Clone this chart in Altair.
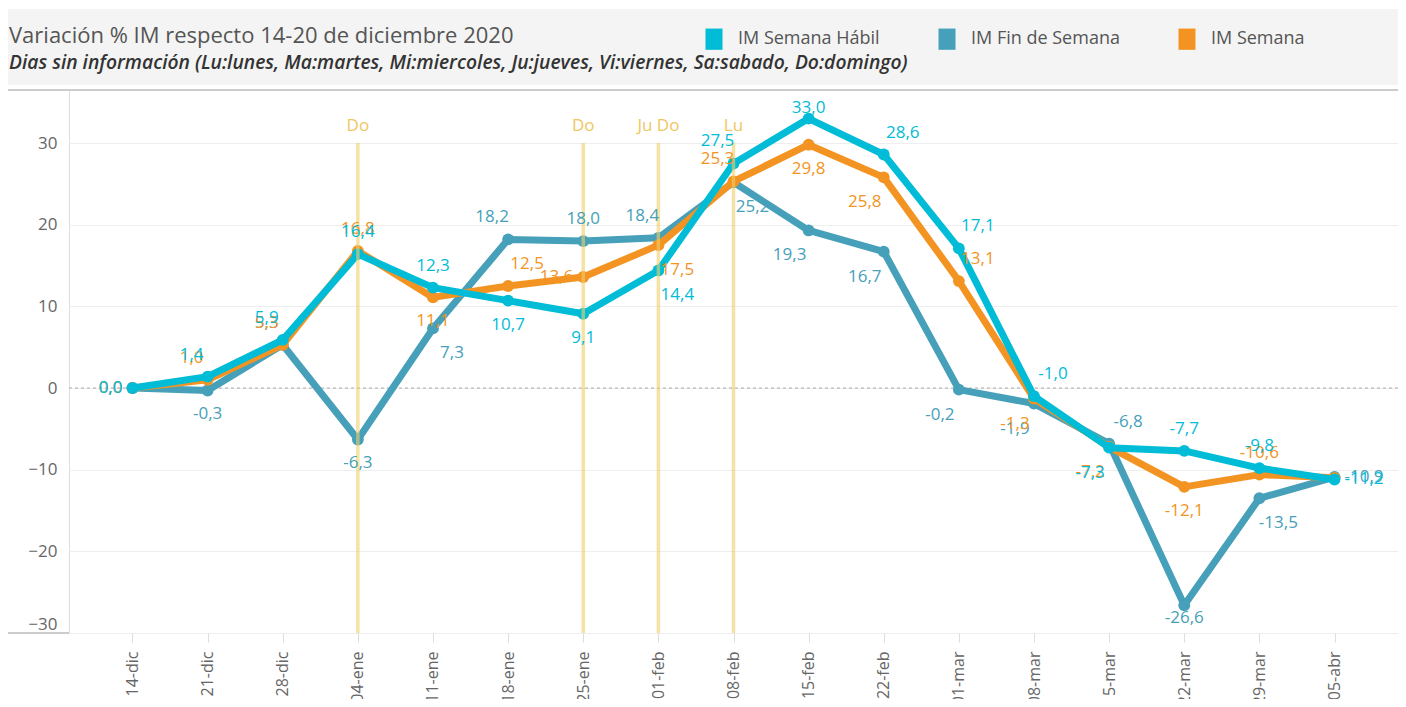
import altair as alt
import pandas as pd

weeks = ["14-dic", "21-dic", "28-dic", "04-ene", "11-ene", "18-ene", "25-ene", "01-feb",
         "08-feb", "15-feb", "22-feb", "01-mar", "08-mar", "15-mar", "22-mar", "29-mar", "05-abr"]

habil = [0.0, 1.4, 5.9, 16.4, 12.3, 10.7, 9.1, 14.4, 27.5, 33.0, 28.6, 17.1, -1.0, -7.3, -7.7, -9.8, -11.2]
fin = [0.0, -0.3, 5.3, -6.3, 7.3, 18.2, 18.0, 18.4, 25.2, 19.3, 16.7, -0.2, -1.9, -6.8, -26.6, -13.5, -10.9]
semana = [0.0, 1.0, 5.3, 16.8, 11.1, 12.5, 13.6, 17.5, 25.3, 29.8, 25.8, 13.1, -1.3, -7.2, -12.1, -10.6, -11.0]

# label placement codes (style only)
habil_pos = ["l", "al", "al", "a", "a", "b", "b", "br", "al", "at", "ar", "ar", "ar", "bl", "a", "a", "r"]
fin_pos = ["l", "b", "al", "b", "br", "al", "a", "al", "br", "bl", "bl", "bl", "bl", "ar", "bt", "br", "r"]
semana_pos = ["l", "al", "al", "a", "b", "ar", "l", "br", "al", "b", "bl", "ar", "bl", "bl", "b", "a", "n"]

series_names = ["IM Semana Hábil", "IM Fin de Semana", "IM Semana"]
series_colors = ["#00BCD6", "#46A0B9", "#F39422"]

ref_weeks = ["04-ene", "25-ene", "01-feb", "08-feb"]
ref_labels = ["Do", "Do", "Ju Do", "Lu"]

title_text = "Variación % IM respecto 14-20 de diciembre 2020"
subtitle_text = ("Dias sin información (Lu:lunes, Ma:martes, Mi:miercoles, Ju:jueves, "
                 "Vi:viernes, Sa:sabado, Do:domingo)")

FONT = "Open Sans"
W, H = 1329, 543
PL, PT = 61, 82

rows = []
for name, vals, poss in [(series_names[1], fin, fin_pos),
                         (series_names[2], semana, semana_pos),
                         (series_names[0], habil, habil_pos)]:
    for w, v, p in zip(weeks, vals, poss):
        rows.append({"week": w, "value": v, "series": name, "pos": p,
                     "label": f"{v:.1f}".replace(".", ",")})
df = pd.DataFrame(rows)
ref_df = pd.DataFrame({"week": ref_weeks, "lab": ref_labels})

xscale = alt.Scale(type="point", domain=weeks, padding=0.845)
yscale = alt.Scale(domain=[-30, 36.5], nice=False, zero=False)
cscale = alt.Scale(domain=series_names, range=series_colors)

x_enc = alt.X("week:O", scale=xscale, title=None,
              axis=alt.Axis(labelAngle=-90, labelFont=FONT, labelFontSize=16, labelColor="#666",
                            tickColor="#dddddd", tickSize=9, labelPadding=9, domain=False, grid=False))
y_enc = alt.Y("value:Q", scale=yscale, title=None,
              axis=alt.Axis(values=[-30, -20, -10, 0, 10, 20, 30], labelFont=FONT, labelFontSize=17,
                            labelColor="#666", ticks=False, domain=False, labelPadding=12,
                            gridColor="#eeeeee", grid=True, labelFlush=True))

base = alt.Chart(df)

zero = alt.Chart(pd.DataFrame({"v": [0]})).mark_rule(
    color="#aaaaaa", strokeDash=[3, 3], strokeWidth=1).encode(y=alt.Y("v:Q", scale=yscale))

legend = alt.Legend(orient="none", legendX=636, legendY=-60, direction="horizontal", columns=3,
                    title=None, symbolType="M-1,-1.25H1V1.25H-1Z", symbolSize=289, labelFont=FONT,
                    labelFontSize=18, labelColor="#555", labelOffset=15, columnPadding=58,
                    symbolStrokeWidth=0, symbolOpacity=1, padding=0)

layers = [zero]
first = True
for name in [series_names[1], series_names[2], series_names[0]]:
    sub = base.transform_filter(alt.datum.series == name)
    layers.append(sub.mark_line(strokeWidth=7, strokeJoin="round", strokeCap="round").encode(
        x=x_enc, y=y_enc, color=alt.Color("series:N", scale=cscale, legend=None)))
    layers.append(sub.mark_circle(size=140, opacity=1).encode(
        x=x_enc, y=y_enc,
        color=alt.Color("series:N", scale=cscale, legend=legend if first else None)))
    first = False

ref_base = alt.Chart(ref_df)
layers.append(ref_base.mark_rule(color="#F0CF68", opacity=0.6, strokeWidth=3.5).encode(
    x=alt.X("week:O", scale=xscale), y=alt.datum(30), y2=alt.datum(-30)))
layers.append(ref_base.mark_text(color="#EEC75E", font=FONT, fontSize=17, dy=-17).encode(
    x=alt.X("week:O", scale=xscale), y=alt.datum(30), text="lab:N"))

placements = {
    "a": (0, -22, "center"), "al": (-16, -22, "center"), "ar": (19, -22, "center"),
    "at": (0, -11, "center"), "b": (0, 24, "center"), "bl": (-19, 25, "center"),
    "br": (19, 25, "center"), "bt": (0, 13, "center"), "l": (-10, 0, "right"),
    "r": (10, 0, "left"),
}
for code, (dx, dy, al) in placements.items():
    layers.append(base.transform_filter(alt.datum.pos == code).mark_text(
        font=FONT, fontSize=17, dx=dx, dy=dy, align=al, baseline="middle").encode(
        x=alt.X("week:O", scale=xscale), y=alt.Y("value:Q", scale=yscale), text="label:N",
        color=alt.Color("series:N", scale=cscale, legend=None)))

one = alt.Chart(pd.DataFrame({"t": [title_text], "s": [subtitle_text]}))
layers.append(one.mark_rect(color="#F4F4F4").encode(
    x=alt.value(-PL), x2=alt.value(W), y=alt.value(-81), y2=alt.value(-5)))
layers.append(one.mark_rule(color="#cccccc", strokeWidth=2).encode(
    x=alt.value(-PL), x2=alt.value(W), y=alt.value(0)))
layers.append(one.mark_rule(color="#cccccc", strokeWidth=2).encode(
    x=alt.value(-PL), x2=alt.value(0), y=alt.value(H)))
layers.append(one.mark_text(align="left", baseline="middle", font=FONT, fontSize=22,
                            color="#555555").encode(x=alt.value(-60), y=alt.value(-54), text="t:N"))
layers.append(one.mark_text(align="left", baseline="middle", font=FONT, fontSize=19.3,
                            fontStyle="italic", fontWeight=600, color="#333333").encode(
    x=alt.value(-60), y=alt.value(-27), text="s:N"))

chart = alt.layer(*layers).resolve_scale(color="shared").resolve_legend(color="independent").properties(
    width=W, height=H,
    autosize=alt.AutoSizeParams(type="none"),
    padding={"left": PL, "top": PT, "right": 0, "bottom": 66},
).configure_view(stroke="#cccccc", strokeWidth=1).configure(background="white")

chart.save("out.html", embed_options={"renderer": "svg", "actions": False})
